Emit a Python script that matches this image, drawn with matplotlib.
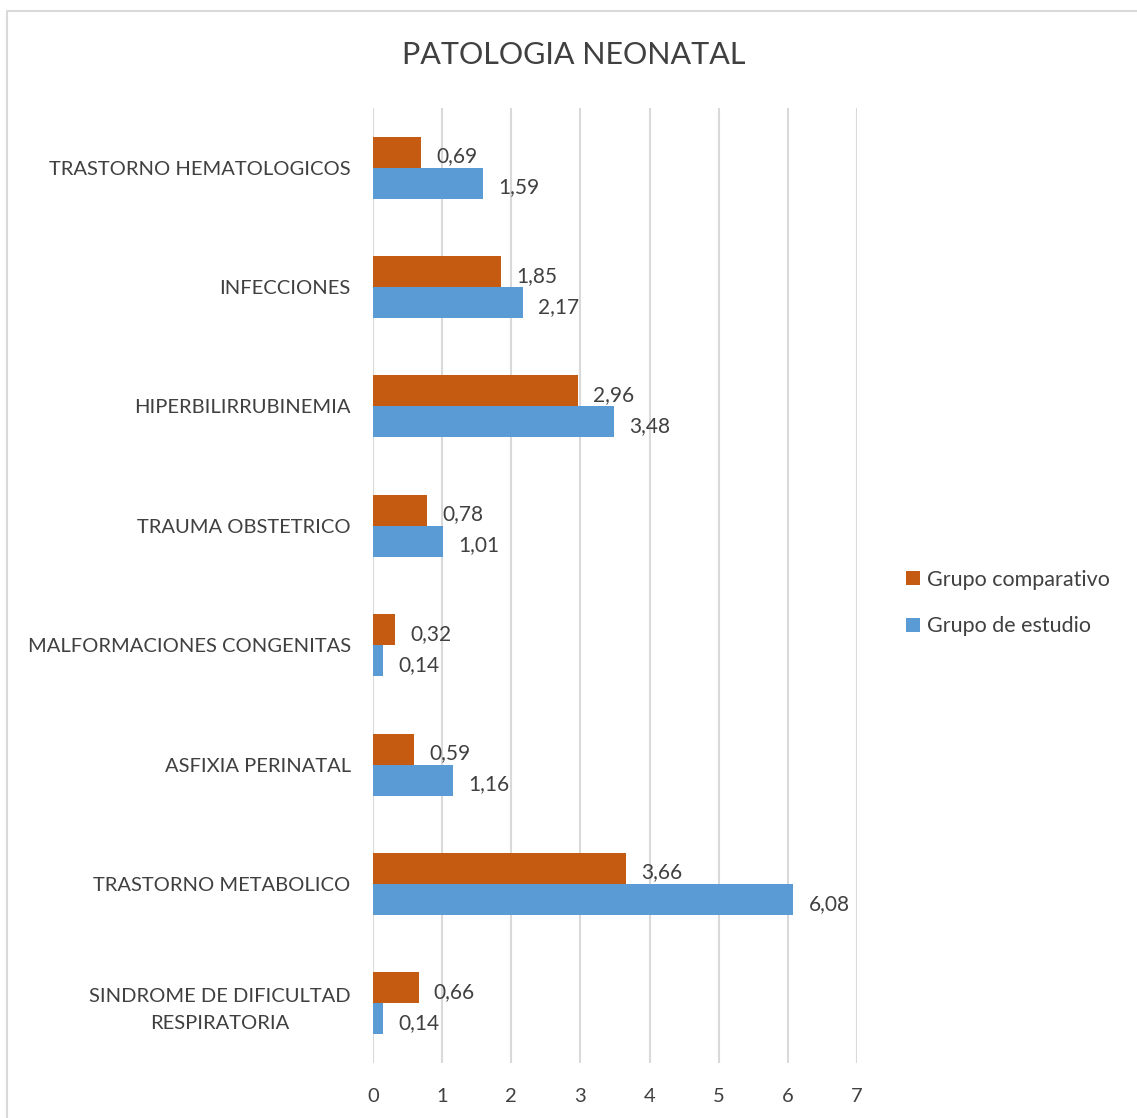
import matplotlib.pyplot as plt
import numpy as np
from matplotlib.lines import Line2D

plt.rcParams['font.family'] = ['Lato', 'DejaVu Sans']

# data (bottom to top, as drawn)
categorias = [
    "SINDROME DE DIFICULTAD\nRESPIRATORIA",
    "TRASTORNO METABOLICO",
    "ASFIXIA PERINATAL",
    "MALFORMACIONES CONGENITAS",
    "TRAUMA OBSTETRICO",
    "HIPERBILIRRUBINEMIA",
    "INFECCIONES",
    "TRASTORNO HEMATOLOGICOS",
]
comparativo = [0.66, 3.66, 0.59, 0.32, 0.78, 2.96, 1.85, 0.69]
estudio = [0.14, 6.08, 1.16, 0.14, 1.01, 3.48, 2.17, 1.59]
xticks = [0, 1, 2, 3, 4, 5, 6, 7]

c_orange = "#C55A11"
c_blue = "#5B9BD5"
txt = "#404040"

fig = plt.figure(figsize=(11.37, 11.18), dpi=100)
ax = fig.add_axes([0.328, 0.0492, 0.4257, 0.8542])

# chart border (left and top edges visible)
bx, by = 7 / 1137, 1 - 11 / 1118
fig.lines.append(Line2D([bx, bx, 1.0], [0.0, by, by], transform=fig.transFigure,
                        color="#D9D9D9", linewidth=1.5))

y = np.arange(len(categorias))
h = 0.26
b1 = ax.barh(y + h / 2, comparativo, height=h, color=c_orange, label="Grupo comparativo")
b2 = ax.barh(y - h / 2, estudio, height=h, color=c_blue, label="Grupo de estudio")

for bars, vals in ((b1, comparativo), (b2, estudio)):
    for bar, v in zip(bars, vals):
        ax.annotate(f"{v:.2f}".replace(".", ","),
                    (bar.get_width(), bar.get_y() + bar.get_height() / 2),
                    xytext=(11, -3), textcoords="offset points",
                    ha="left", va="center", fontsize=15, color=txt)

ax.set_xlim(0, 7)
ax.set_ylim(-0.5, len(categorias) - 0.5)
ax.set_xticks(xticks)
ax.set_xticklabels([str(t) for t in xticks])
ax.set_yticks(y)
ax.set_yticklabels(categorias, multialignment="center", linespacing=1.75)
ax.tick_params(axis="both", length=0, labelsize=14.5, labelcolor=txt)
ax.tick_params(axis="y", pad=16)
ax.tick_params(axis="x", pad=18)
ax.xaxis.grid(True, color="#D9D9D9", linewidth=1.5)
ax.set_axisbelow(True)
for s in ax.spines.values():
    s.set_visible(False)

fig.text(574 / 1137, 1 - 55 / 1118, "PATOLOGIA NEONATAL", ha="center", va="center",
         fontsize=22, color=txt)

ax.legend(handles=[b1, b2], loc="center left", bbox_to_anchor=(887 / 1137, 1 - 603 / 1118),
          bbox_transform=fig.transFigure, frameon=False, fontsize=15.5,
          handlelength=0.65, handleheight=0.65, handletextpad=0.3, labelspacing=1.25,
          labelcolor=txt)

fig.savefig("out.png", dpi=100)
